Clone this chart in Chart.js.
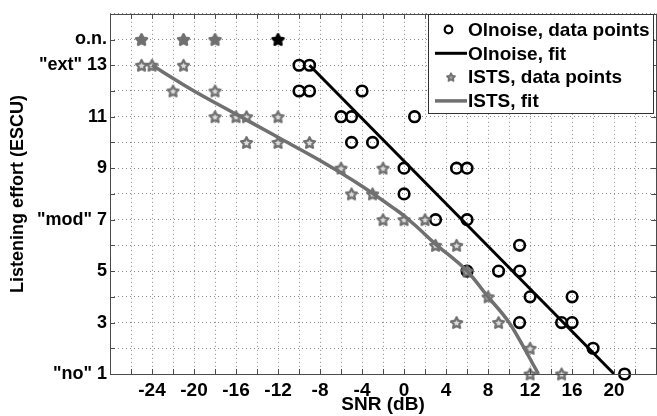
<!DOCTYPE html>
<html>
<head>
<meta charset="utf-8">
<title>Listening effort vs SNR</title>
<script src="https://cdn.jsdelivr.net/npm/chart.js@4.4.1/dist/chart.umd.min.js"></script>
<style>
  html, body { margin: 0; padding: 0; overflow: hidden; background: #fff; }
  canvas { display: block; }
</style>
</head>
<body>
<canvas id="effort" width="664" height="416"></canvas>
<script>
(function () {
    "use strict";

    // Olnoise ratings (SNR in dB, effort in ESCU)
    var olnoiseX = [-10, -9, -10, -9, -4, -6, -5, 1, -5, -3, 0, 5, 6, 0, 3, 6, 11, 6, 9, 11, 12, 16, 11, 15, 16, 18, 21];
    var olnoiseY = [13, 13, 12, 12, 12, 11, 11, 11, 10, 10, 9, 9, 9, 8, 7, 7, 6, 5, 5, 5, 4, 4, 3, 3, 3, 2, 1];

    // ISTS ratings
    var istsX = [-25, -24, -21, -22, -18, -18, -16, -15, -12, -15, -12, -9, -6, -2, -5, -3, -2, 0, 2, 3, 5, 6, 8, 5, 9, 12, 12, 15];
    var istsY = [13, 13, 13, 12, 12, 11, 11, 11, 11, 10, 10, 10, 9, 9, 8, 8, 7, 7, 7, 6, 6, 5, 4, 3, 3, 2, 1, 1];

    // "only noise" ratings, plotted on their own row
    var onLevel = 14;
    var onIstsX = [-25, -21, -18];
    var onOlnoiseX = [-12];

    // fitted curves
    var olFitX = [-9, 20];
    var olFitY = [13, 1];
    var istsFitX = [-24, -20, -16, -12, -8, -4, -1, 0, 1, 3, 6, 8, 10, 12.8];
    var istsFitY = [13, 12.0, 11.1, 10.2, 9.3, 8.3, 7.45, 7.15, 6.8, 6.05, 5.0, 4.0, 3.0, 1];

    // axis ticks
    var xTickLabels = [-24, -20, -16, -12, -8, -4, 0, 4, 8, 12, 16, 20];
    var yTickValues = [1, 3, 5, 7, 9, 11, 13, 14];
    var yTickLabels = ['"no" 1', '3', '5', '"mod" 7', '9', '11', '"ext" 13', 'o.n.'];

    var FONT = "'Liberation Sans', Arial, sans-serif";
    var GREY = '#707070';

    function pairs(xs, ys) {
        return xs.map(function (x, i) { return {x: x, y: ys[i]}; });
    }

    // five pointed star marker
    function makeStar(r, fill, stroke, lw) {
        var s = Math.ceil(2 * r + 2 * lw + 2);
        var c = document.createElement('canvas');
        c.width = c.height = s;
        var g = c.getContext('2d');
        g.translate(s / 2, s / 2 + r * 0.1);
        g.beginPath();
        for (var i = 0; i < 10; i++) {
            var rad = i % 2 ? r * 0.5 : r;
            var a = -Math.PI / 2 + i * Math.PI / 5;
            g.lineTo(rad * Math.cos(a), rad * Math.sin(a));
        }
        g.closePath();
        g.fillStyle = fill;
        g.fill();
        if (stroke) {
            g.lineJoin = 'round';
            g.lineWidth = lw;
            g.strokeStyle = stroke;
            g.stroke();
        }
        return c;
    }

    var istsStar = makeStar(5.8, '#dcdcdc', GREY, 2.3);
    var istsStarSmall = makeStar(4.2, '#a0a0a0', GREY, 1.8);
    var onGreyStar = makeStar(5.6, GREY, GREY, 2.8);
    var onBlackStar = makeStar(5.6, '#000', '#000', 2.8);

    // box with inward ticks on every side
    var frame = {
        id: 'frame',
        afterDatasetsDraw: function (chart) {
            var ctx = chart.ctx, a = chart.chartArea;
            var xs = chart.scales.x, ys = chart.scales.y;
            var len = 5;
            ctx.save();
            ctx.strokeStyle = '#4a4a4a';
            ctx.lineWidth = 1;
            ctx.beginPath();
            xs.ticks.forEach(function (t) {
                var px = Math.round(xs.getPixelForValue(t.value)) + 0.5;
                ctx.moveTo(px, a.bottom); ctx.lineTo(px, a.bottom - len);
                ctx.moveTo(px, a.top); ctx.lineTo(px, a.top + len);
            });
            ys.ticks.forEach(function (t) {
                var py = Math.round(ys.getPixelForValue(t.value)) + 0.5;
                ctx.moveTo(a.left, py); ctx.lineTo(a.left + len, py);
                ctx.moveTo(a.right, py); ctx.lineTo(a.right - len, py);
            });
            ctx.stroke();
            ctx.strokeRect(Math.round(a.left) + 0.5, Math.round(a.top) + 0.5,
                Math.round(a.right - a.left), Math.round(a.bottom - a.top));
            ctx.restore();
        }
    };

    // boxed legend in the upper right corner
    var boxLegend = {
        id: 'boxLegend',
        afterDraw: function (chart) {
            var ctx = chart.ctx;
            var items = chart.data.datasets.filter(function (d) { return d.inLegend; });
            var left = 428.5, top = 14.5, w = 225, h = 99;
            var rowH = 23.8, firstRow = 29.5;
            ctx.save();
            ctx.fillStyle = '#fff';
            ctx.fillRect(left, top, w, h);
            ctx.strokeStyle = '#333';
            ctx.lineWidth = 1;
            ctx.strokeRect(left, top, w, h);
            items.forEach(function (d, i) {
                var y = firstRow + i * rowH;
                if (d.showLine) {
                    ctx.strokeStyle = d.borderColor;
                    ctx.lineWidth = d.borderWidth;
                    ctx.beginPath();
                    ctx.moveTo(435, y);
                    ctx.lineTo(467, y);
                    ctx.stroke();
                } else if (d.legendMarker === 'circle') {
                    ctx.strokeStyle = '#000';
                    ctx.lineWidth = 2.2;
                    ctx.beginPath();
                    ctx.arc(448.5, y, 3.8, 0, Math.PI * 2);
                    ctx.stroke();
                } else {
                    ctx.drawImage(istsStarSmall, 451 - istsStarSmall.width / 2, y - istsStarSmall.height / 2);
                }
                ctx.fillStyle = '#000';
                ctx.font = 'bold 19px ' + FONT;
                ctx.textBaseline = 'middle';
                ctx.textAlign = 'left';
                ctx.fillText(d.label, 468, y + 1);
            });
            ctx.restore();
        }
    };

    Chart.defaults.font.family = FONT;
    Chart.defaults.font.size = 18;
    Chart.defaults.font.weight = 'bold';
    Chart.defaults.color = '#000';

    var ctx = document.getElementById('effort').getContext('2d');
    var effortChart = new Chart(ctx, {
        type: 'scatter',
        data: {
            datasets: [{
                label: 'Olnoise, data points',
                inLegend: true,
                legendMarker: 'circle',
                data: pairs(olnoiseX, olnoiseY),
                pointStyle: 'circle',
                pointRadius: 5.3,
                pointBorderWidth: 2.6,
                pointBorderColor: '#000',
                pointBackgroundColor: 'rgba(0,0,0,0)',
                order: 4,
                clip: false
            }, {
                label: 'Olnoise, fit',
                inLegend: true,
                data: pairs(olFitX, olFitY),
                showLine: true,
                borderColor: '#000',
                borderWidth: 3,
                pointRadius: 0,
                order: 3,
                clip: false
            }, {
                label: 'ISTS, data points',
                inLegend: true,
                data: pairs(istsX, istsY),
                pointStyle: istsStar,
                pointRadius: 5,
                order: 2,
                clip: false
            }, {
                label: 'ISTS, fit',
                inLegend: true,
                data: pairs(istsFitX, istsFitY),
                showLine: true,
                borderColor: GREY,
                borderWidth: 3.5,
                cubicInterpolationMode: 'monotone',
                pointRadius: 0,
                order: 1,
                clip: false
            }, {
                label: 'ISTS, o.n.',
                data: onIstsX.map(function (x) { return {x: x, y: onLevel}; }),
                pointStyle: onGreyStar,
                pointRadius: 5,
                order: 5,
                clip: false
            }, {
                label: 'Olnoise, o.n.',
                data: onOlnoiseX.map(function (x) { return {x: x, y: onLevel}; }),
                pointStyle: onBlackStar,
                pointRadius: 5,
                order: 5,
                clip: false
            }]
        },
        options: {
            responsive: false,
            animation: false,
            layout: { padding: { top: 10, right: 4, left: 0, bottom: 0 } },
            plugins: {
                legend: { display: false },
                tooltip: { enabled: false }
            },
            scales: {
                x: {
                    type: 'linear',
                    min: -28,
                    max: 24,
                    afterFit: function (scale) { scale.height = 42; },
                    ticks: {
                        stepSize: 2,
                        autoSkip: false,
                        maxRotation: 0,
                        padding: 5,
                        font: { size: 19 },
                        callback: function (v) {
                            return xTickLabels.indexOf(v) >= 0 ? String(v) : '';
                        }
                    },
                    grid: { color: '#8a8a8a', lineWidth: 1, drawTicks: false },
                    border: { display: false, dash: [1, 3] },
                    title: {
                        display: true,
                        text: 'SNR (dB)',
                        font: { size: 19 },
                        padding: { top: 0, bottom: 0 }
                    }
                },
                y: {
                    type: 'linear',
                    min: 1,
                    max: 15,
                    afterFit: function (scale) { scale.width = 110; },
                    ticks: {
                        stepSize: 1,
                        autoSkip: false,
                        padding: 3,
                        callback: function (v) {
                            var i = yTickValues.indexOf(v);
                            return i >= 0 ? yTickLabels[i] : '';
                        }
                    },
                    grid: { color: '#8a8a8a', lineWidth: 1, drawTicks: false },
                    border: { display: false, dash: [1, 3] },
                    title: {
                        display: true,
                        text: 'Listening effort (ESCU)',
                        padding: { top: 7, bottom: 0 }
                    }
                }
            }
        },
        plugins: [frame, boxLegend]
    });
})();
</script>
</body>
</html>
